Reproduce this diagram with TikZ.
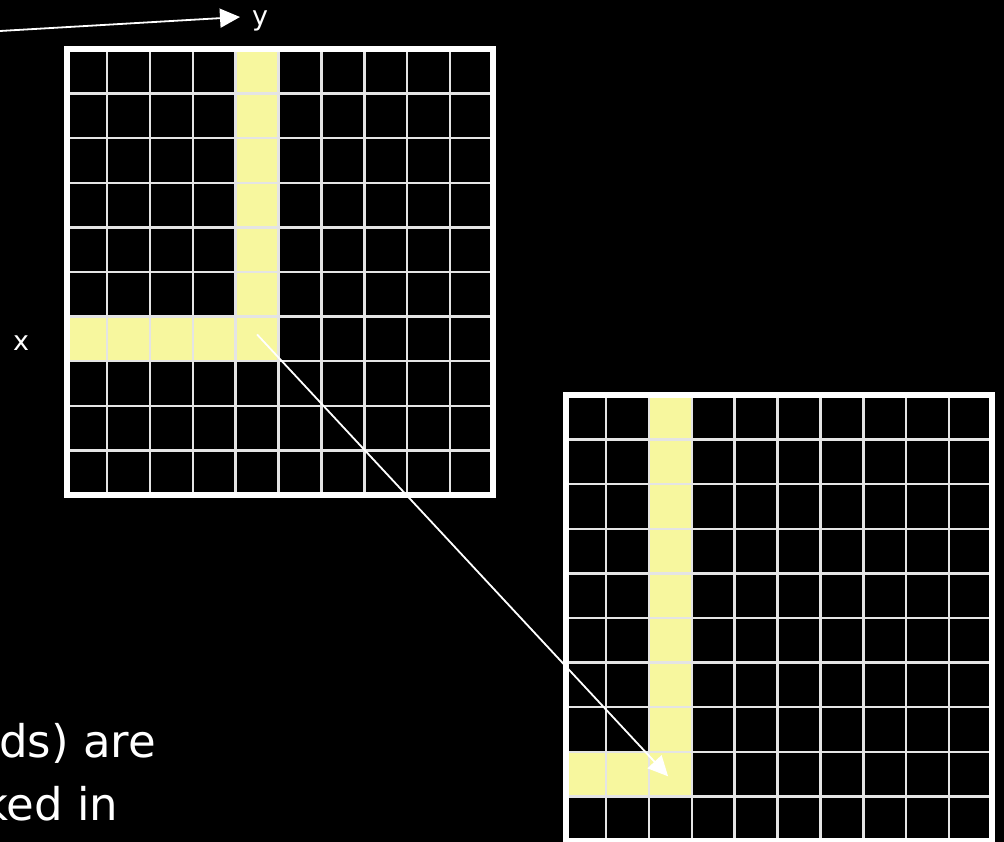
\documentclass[tikz,border=0pt]{standalone}
\usepackage{fontspec}
\setmainfont{DejaVu Sans}
\usetikzlibrary{arrows.meta,positioning}
\definecolor{cell}{HTML}{F7F79E}
\definecolor{rule}{HTML}{E4E4E4}
\def\cellw{42.9}
\def\cellh{44.6}

\begin{document}
\begin{tikzpicture}[x=1pt,y=-1pt,>={Triangle[length=20pt,width=19pt]},
  gridrule/.style={rule,line width=2.4pt},
  frame/.style={white,line width=6pt},
  pointer/.style={->,white,line width=1.8pt},
  label/.style={text=white,inner sep=0pt,font=\fontsize{27}{32}\selectfont},
  bigtext/.style={text=white,inner sep=0pt,anchor=base west,font=\fontsize{45}{54}\selectfont}]
\fill[black] (0,0) rectangle (1004,842);
\clip (0,0) rectangle (1004,842);
% first grid
\begin{scope}[shift={(64,49)}]
\foreach \r in {0,...,6} \fill[cell] (4*\cellw,\r*\cellh) rectangle ++(\cellw,\cellh);
\foreach \c in {0,...,3} \fill[cell] (\c*\cellw,6*\cellh) rectangle ++(\cellw,\cellh);
\foreach \i in {1,...,9} {
  \draw[gridrule] (\i*\cellw,0) -- (\i*\cellw,10*\cellh);
  \draw[gridrule] (0,\i*\cellh) -- (10*\cellw,\i*\cellh);
}
\draw[frame] (3,0) rectangle (10*\cellw,10*\cellh);
\coordinate (cornerA) at (4.5*\cellw,6.4*\cellh);
\end{scope}
% second grid
\begin{scope}[shift={(563,395)}]
\foreach \r in {0,...,8} \fill[cell] (2*\cellw,\r*\cellh) rectangle ++(\cellw,\cellh);
\foreach \c in {0,1} \fill[cell] (\c*\cellw,8*\cellh) rectangle ++(\cellw,\cellh);
\foreach \i in {1,...,9} {
  \draw[gridrule] (\i*\cellw,0) -- (\i*\cellw,10*\cellh);
  \draw[gridrule] (0,\i*\cellh) -- (10*\cellw,\i*\cellh);
}
\draw[frame] (3,0) rectangle (10*\cellw,10*\cellh);
\coordinate (cornerB) at (2.45*\cellw,8.55*\cellh);
\end{scope}
\draw[pointer] (cornerA) -- (cornerB);
% axes
\coordinate (ystart) at (0,31);
\coordinate (yend) at (240,17);
\draw[pointer] (ystart) -- (yend);
\node[label,anchor=base west] (ylab) at (252,26) {y};
\node[label,anchor=base] (xlab) at (21,350) {x};
% cut text
\node[bigtext] (line1) at (-1,757) {ds) are};
\node[bigtext] (line2) at (-18,820) {ked in};
\end{tikzpicture}
\end{document}
